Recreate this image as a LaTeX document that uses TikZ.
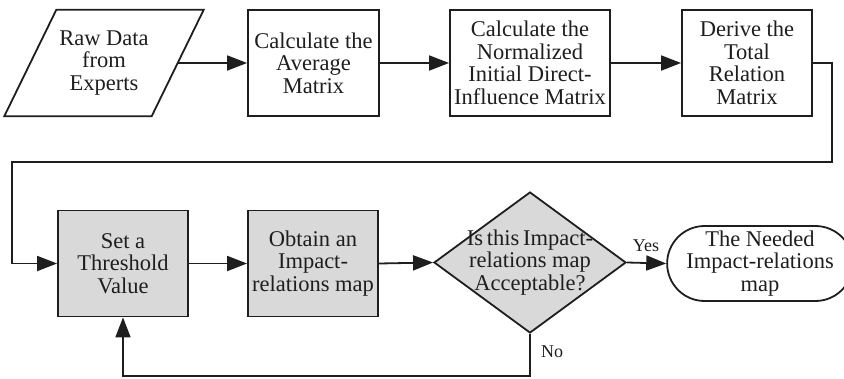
\documentclass[tikz,border=0pt]{standalone}
\usepackage{fontspec}
\setmainfont{Liberation Serif}
\usetikzlibrary{arrows.meta,shapes.geometric,shapes.misc,calc}
\definecolor{ink}{HTML}{1E1E1E}
\definecolor{shade}{HTML}{D9D9D9}
\begin{document}
\begin{tikzpicture}[x=1pt,y=-1pt,
  every node/.style={font=\fontsize{22.5}{22.5}\selectfont, text=ink, align=center},
  proc/.style={draw=ink, line width=1.8pt, minimum width=131pt, minimum height=106pt, inner sep=1pt},
  graybox/.style={proc, fill=shade},
  decision/.style={diamond, draw=ink, line width=1.8pt, fill=shade, minimum width=192pt, minimum height=141pt, inner sep=0pt},
  terminal/.style={rounded rectangle, draw=ink, line width=1.8pt, minimum width=166pt, minimum height=75pt, inner sep=0pt},
  flow/.style={draw=ink, line width=1.8pt, -{Triangle[length=20pt,width=15pt]}},
  wire/.style={draw=ink, line width=1.8pt},
  branchlabel/.style={font=\fontsize{18}{18}\selectfont, text=ink, inner sep=2pt}]
\useasboundingbox (0,0) rectangle (844,378);

% input (parallelogram)
\node[minimum width=147pt, minimum height=106pt, inner sep=0pt] (raw) at (104,63) {Raw Data\\from\\Experts};
\draw[wire] ($(raw.north west)+(26,0)$) -- ($(raw.north east)+(26,0)$)
  -- ($(raw.south east)+(-26,0)$) -- ($(raw.south west)+(-26,0)$) -- cycle;

% top row of steps
\node[proc] (avg) at (313.5,63) {Calculate the\\Average\\Matrix};
\node[proc, minimum width=160pt] (norm) at (530,63) {Calculate the\\Normalized\\Initial Direct-\\Influence Matrix};
\node[proc, minimum width=130pt] (total) at (747,63) {Derive the\\Total\\Relation\\Matrix};

% bottom row
\node[graybox, minimum width=130pt] (thr) at (123,263.5) {Set a\\Threshold\\Value};
\node[graybox, minimum width=130pt] (map) at (313,263.5) {Obtain an\\Impact-\\relations map};
\node[decision] (dec) at (530,262.5) {};
\node at (dec) {Is\,this\,Impact-\\relations map\\Acceptable?};
\node[terminal] (term) at (760,263.5) {The Needed\\Impact-relations\\map};

% routing points
\coordinate (c1) at (832,63);
\coordinate (c2) at (832,162);
\coordinate (c3) at (12,162);
\coordinate (c4) at (12,263.5);
\coordinate (d1) at (530,376);
\coordinate (d2) at (123,376);

% connectors
\draw[flow] (raw.east) -- (avg.west);
\draw[flow] (avg.east) -- (norm.west);
\draw[flow] (norm.east) -- (total.west);
\draw[flow] (total.east) -- (c1) -- (c2) -- (c3) -- (c4) -- (thr.west);
\draw[flow] (thr.east) -- (map.west);
\draw[flow] (map.east) -- (dec.west);
\draw[flow] (dec.east) -- (term.west);
\node[branchlabel] (yes) at (646,246) {Yes};
\draw[flow] (dec.south) -- (d1) -- (d2) -- (thr.south);
\node[branchlabel] (no) at (552,352) {No};
\end{tikzpicture}
\end{document}
